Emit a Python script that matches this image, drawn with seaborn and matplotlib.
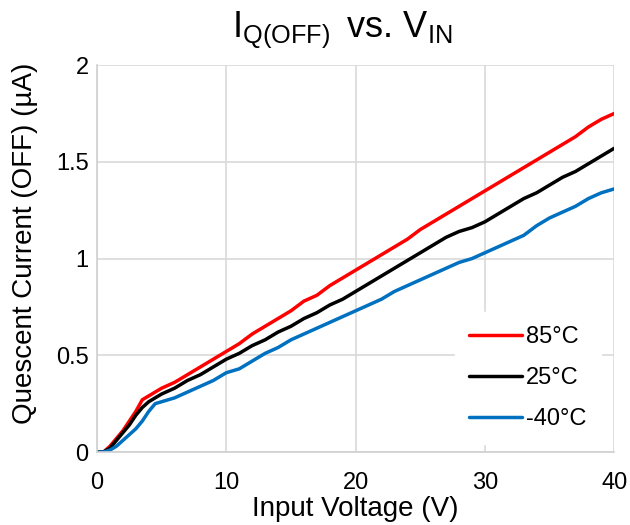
import pandas as pd
import matplotlib.pyplot as plt
import seaborn as sns

# input voltage (V)
vin = [0, 0.5, 1, 1.5, 2, 2.5, 3, 3.5, 4, 4.5, 5,
       6, 7, 8, 9, 10, 11, 12, 13, 14, 15, 16, 17, 18, 19, 20,
       21, 22, 23, 24, 25, 26, 27, 28, 29, 30, 31, 32, 33, 34, 35,
       36, 37, 38, 39, 40]

# quiescent current (uA) per temperature
iq_85 = [0, 0.0, 0.03, 0.07, 0.11, 0.16, 0.21, 0.27, 0.29, 0.31, 0.33,
         0.36, 0.40, 0.44, 0.48, 0.52, 0.56, 0.61, 0.65, 0.69, 0.73, 0.78, 0.81, 0.86, 0.90, 0.94,
         0.98, 1.02, 1.06, 1.10, 1.15, 1.19, 1.23, 1.27, 1.31, 1.35, 1.39, 1.43, 1.47, 1.51, 1.55,
         1.59, 1.63, 1.68, 1.72, 1.75]
iq_25 = [0, 0.0, 0.02, 0.06, 0.10, 0.14, 0.19, 0.23, 0.26, 0.28, 0.30,
         0.33, 0.37, 0.40, 0.44, 0.48, 0.51, 0.55, 0.58, 0.62, 0.65, 0.69, 0.72, 0.76, 0.79, 0.83,
         0.87, 0.91, 0.95, 0.99, 1.03, 1.07, 1.11, 1.14, 1.16, 1.19, 1.23, 1.27, 1.31, 1.34, 1.38,
         1.42, 1.45, 1.49, 1.53, 1.57]
iq_m40 = [0, 0.0, 0.01, 0.03, 0.06, 0.09, 0.12, 0.16, 0.21, 0.25, 0.26,
          0.28, 0.31, 0.34, 0.37, 0.41, 0.43, 0.47, 0.51, 0.54, 0.58, 0.61, 0.64, 0.67, 0.70, 0.73,
          0.76, 0.79, 0.83, 0.86, 0.89, 0.92, 0.95, 0.98, 1.00, 1.03, 1.06, 1.09, 1.12, 1.17, 1.21,
          1.24, 1.27, 1.31, 1.34, 1.36]

temps = ["85°C", "25°C", "-40°C"]
colors = ["#ff0000", "#000000", "#0070c0"]

df = pd.concat([
    pd.DataFrame({"vin": vin, "iq": s, "temp": t})
    for s, t in zip([iq_85, iq_25, iq_m40], temps)
])

sns.set_style("white")
plt.rcParams["font.family"] = ["Liberation Sans", "DejaVu Sans"]
plt.rcParams["mathtext.fontset"] = "custom"
plt.rcParams["mathtext.rm"] = "Liberation Sans"
for key in ["text.color", "axes.labelcolor", "xtick.color", "ytick.color"]:
    plt.rcParams[key] = "black"

fig = plt.figure(figsize=(6.3, 5.25), dpi=100)
ax = fig.add_axes([0.154, 0.139, 0.821, 0.737])

sns.lineplot(data=df, x="vin", y="iq", hue="temp", hue_order=temps,
             palette=colors, linewidth=2.5, ax=ax)

ax.set_xlim(0, 40)
ax.set_ylim(0, 2)
ax.set_xticks([0, 10, 20, 30, 40])
ax.set_yticks([0, 0.5, 1, 1.5, 2])
ax.set_yticklabels(["0", "0.5", "1", "1.5", "2"])
ax.grid(True, color="#d9d9d9", linewidth=1.2)
ax.set_axisbelow(True)
for side in ["top", "right"]:
    ax.spines[side].set_visible(False)
for side in ["left", "bottom"]:
    ax.spines[side].set_color("#d0d0d0")
    ax.spines[side].set_linewidth(1.2)
ax.tick_params(labelsize=17, length=0)
ax.tick_params(axis="x", pad=14.5)
ax.tick_params(axis="y", pad=6)

ax.set_xlabel("Input Voltage (V)", fontsize=20, labelpad=1.5)
ax.set_ylabel("Quescent Current (OFF) (µA)", fontsize=20, labelpad=13, y=0.539)
ax.set_title(r"$\mathregular{I_{Q(OFF)}}\,$ vs. $\mathregular{V_{IN}}$",
             fontsize=26, pad=20, x=0.473)

leg = ax.legend(loc="upper left", bbox_to_anchor=(0.692, 0.362), borderaxespad=0,
                fontsize=17, frameon=True, facecolor="white", edgecolor="white",
                framealpha=1, fancybox=False, borderpad=0.6,
                handlelength=2.25, handletextpad=0.17, labelspacing=0.8)

fig.savefig("out.png", dpi=100)
